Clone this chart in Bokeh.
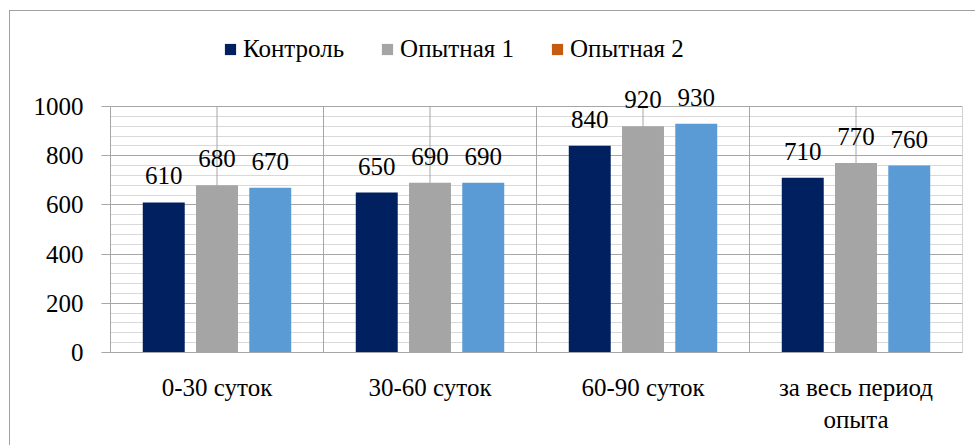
from bokeh.plotting import figure
from bokeh.models import (ColumnDataSource, FixedTicker, Legend, LegendItem,
                          LabelSet, Range1d)
from bokeh.embed import file_html
from bokeh.resources import INLINE

categories = ["0-30 суток", "30-60 суток", "60-90 суток", "за весь период\nопыта"]
series_names = ["Контроль", "Опытная 1", "Опытная 2"]
control = [610, 650, 840, 710]
exp1 = [680, 690, 920, 770]
exp2 = [670, 690, 930, 760]
y_ticks = [0, 200, 400, 600, 800, 1000]
y_minor = list(range(0, 1001, 40))

bar_colors = ["#002060", "#A5A5A5", "#5B9BD5"]
legend_colors = ["#002060", "#A5A5A5", "#C55A11"]
offsets = [-0.25, 0.0, 0.25]
FONT = "Liberation Serif"
FS = "25px"

OX, OY = 10, 11
W, H = 976 - OX, 446 - OY
FRAME_TOP_PAGE = 106
FRAME_BOTTOM_PAGE = 352
frame_h = FRAME_BOTTOM_PAGE - OY
top_gap = FRAME_TOP_PAGE - OY
y_max = 1000.0
y_end = y_max * frame_h / (frame_h - top_gap)

p = figure(width=W, height=H, x_range=Range1d(0, 4), y_range=Range1d(0, y_end),
           output_backend="svg", toolbar_location=None,
           min_border_left=110 - OX, min_border_right=976 - 962,
           min_border_top=0, min_border_bottom=446 - FRAME_BOTTOM_PAGE)
p.background_fill_color = "white"
p.border_fill_color = "white"
p.outline_line_color = None
p.styles = {"margin-left": "9px", "margin-top": "10px",
            "border-left": "1px solid #A0A0A0", "border-top": "1px solid #A0A0A0"}

centers = [i + 0.5 for i in range(len(categories))]

vx = [i * 0.5 for i in range(2 * len(categories) + 1)]
p.segment(x0=vx, y0=[0] * len(vx), x1=vx, y1=[y_max] * len(vx),
          line_color="#A6A6A6", line_width=1)

series = [control, exp1, exp2]
legend_items = []
for k, (vals, name) in enumerate(zip(series, series_names)):
    xs = [c + offsets[k] for c in centers]
    src = ColumnDataSource(dict(x=xs, y=vals, t=[str(v) for v in vals]))
    p.vbar(x="x", top="y", bottom=0, width=0.197, source=src,
           fill_color=bar_colors[k], line_color=None)
    p.add_layout(LabelSet(x="x", y="y", text="t", source=src, y_offset=18,
                          text_align="center", text_baseline="alphabetic",
                          text_font=FONT, text_font_size=FS, text_color="black"))
    dummy = ColumnDataSource(dict(x=[float("nan")], y=[float("nan")]))
    lr = p.vbar(x="x", top="y", width=0.1, source=dummy,
                fill_color=legend_colors[k], line_color=None)
    legend_items.append(LegendItem(label=name, renderers=[lr]))

legend = Legend(items=legend_items, orientation="horizontal",
                location=(223 - 110, FRAME_BOTTOM_PAGE - 63),
                padding=0, margin=0, border_line_color=None, background_fill_alpha=0,
                spacing=36, label_standoff=6, glyph_width=14, glyph_height=14,
                label_text_font=FONT, label_text_font_size=FS, label_text_color="black")
p.add_layout(legend)

p.ygrid.ticker = FixedTicker(ticks=y_ticks, minor_ticks=y_minor)
p.ygrid.grid_line_color = "#A6A6A6"
p.ygrid.minor_grid_line_color = "#D9D9D9"
p.xgrid.grid_line_color = None

p.yaxis.ticker = FixedTicker(ticks=y_ticks, minor_ticks=[])
p.yaxis.bounds = (0, y_max)
p.yaxis.axis_line_color = "#A6A6A6"
p.yaxis.major_tick_line_color = "#A6A6A6"
p.yaxis.major_tick_out = 9
p.yaxis.major_tick_in = 0
p.yaxis.minor_tick_line_color = None
p.yaxis.major_label_standoff = 18
p.yaxis.major_label_text_font = FONT
p.yaxis.major_label_text_font_size = FS
p.yaxis.major_label_text_color = "black"

p.xaxis.ticker = FixedTicker(ticks=centers, minor_ticks=[])
p.xaxis.major_label_overrides = {c: lab for c, lab in zip(centers, categories)}
p.xaxis.axis_line_color = "#A6A6A6"
p.xaxis.major_tick_line_color = None
p.xaxis.minor_tick_line_color = None
p.xaxis.major_tick_out = 0
p.xaxis.major_label_standoff = 21
p.xaxis.major_label_text_font = FONT
p.xaxis.major_label_text_font_size = FS
p.xaxis.major_label_text_color = "black"

open("out.html", "w").write(file_html(p, INLINE))
